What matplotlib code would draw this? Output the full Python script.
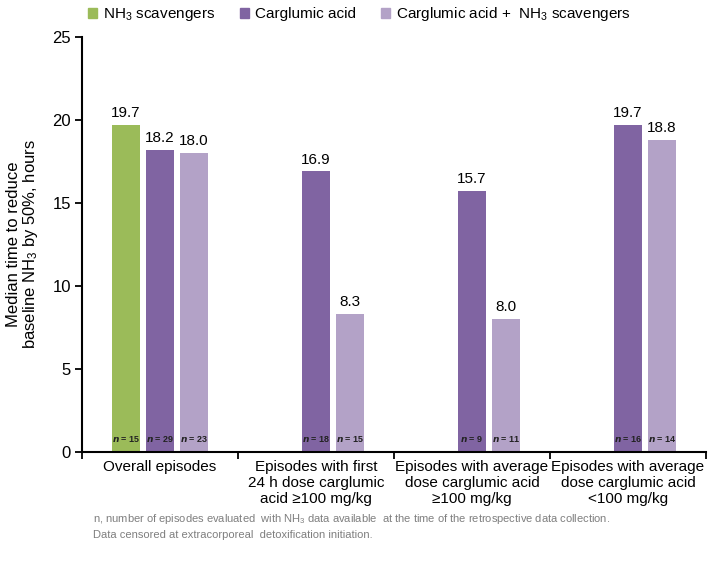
import numpy as np
import matplotlib.pyplot as plt
from matplotlib.patches import Patch

plt.rcParams['font.family'] = ['Liberation Sans', 'DejaVu Sans']
plt.rcParams['mathtext.fontset'] = 'custom'
plt.rcParams['mathtext.rm'] = 'Liberation Sans'
plt.rcParams['mathtext.it'] = 'Liberation Sans:italic'
plt.rcParams['mathtext.bf'] = 'Liberation Sans:bold'

# data
categories = ['Overall episodes',
              'Episodes with first\n24 h dose carglumic\nacid \u2265100 mg/kg',
              'Episodes with average\ndose carglumic acid\n\u2265100 mg/kg',
              'Episodes with average\ndose carglumic acid\n<100 mg/kg']
series_names = ['NH$_3$ scavengers', 'Carglumic acid', 'Carglumic acid +  NH$_3$ scavengers']
scavengers = [19.7, np.nan, np.nan, np.nan]
carglumic = [18.2, 16.9, 15.7, 19.7]
combined = [18.0, 8.3, 8.0, 18.8]
n_scav = [15, None, None, None]
n_carg = [29, 18, 9, 16]
n_comb = [23, 15, 11, 14]

colors = ['#9BBB59', '#8064A2', '#B3A2C7']

fig = plt.figure(figsize=(7.09, 5.74), dpi=100)
ax = fig.add_axes([0.1157, 0.2125, 0.8800, 0.7230])

x = np.arange(len(categories))
width = 0.18
step = 0.218
all_vals = [scavengers, carglumic, combined]
all_n = [n_scav, n_carg, n_comb]
for i, (vals, ns) in enumerate(zip(all_vals, all_n)):
    pos = x + (i - 1) * step
    ax.bar(pos, vals, width, color=colors[i], label=series_names[i])
    for p, v, n in zip(pos, vals, ns):
        if np.isnan(v):
            continue
        ax.text(p, v + 0.3, f'{v:.1f}', ha='center', va='bottom', fontsize=11)
        ax.text(p, 0.78, r'$\mathbfit{n}$' + f' = {n}', ha='center', va='center',
                fontsize=6.5, fontweight='bold', color='#222222')

ax.set_xlim(-0.5, 3.5)
ax.set_ylim(0, 25)
ax.set_yticks([0, 5, 10, 15, 20, 25])
ax.tick_params(axis='y', labelsize=12, length=5, width=1.3, direction='out', pad=3)
ax.set_xticks(np.arange(-0.5, 4.0, 1.0))
ax.set_xticklabels([])
ax.tick_params(axis='x', which='major', length=5, width=1.3, direction='out')
ax.set_xticks(x, minor=True)
ax.set_xticklabels(categories, minor=True, fontsize=11, linespacing=1.15)
ax.tick_params(axis='x', which='minor', length=0, pad=6)

for s in ['top', 'right']:
    ax.spines[s].set_visible(False)
for s in ['left', 'bottom']:
    ax.spines[s].set_linewidth(1.5)

ax.set_ylabel('Median time to reduce\nbaseline NH$_3$ by 50%, hours', fontsize=12,
              linespacing=0.95, labelpad=9)

handles = [Patch(color=c) for c in colors]
fig.legend(handles, series_names, loc='upper left', bbox_to_anchor=(0.105, 1.015),
           ncol=3, frameon=False, fontsize=11, handlelength=0.6, handleheight=0.6,
           handletextpad=0.4, columnspacing=1.6)

fig.text(0.131, 0.090,
         'n, number of episodes evaluated  with NH$_3$ data available  at the time of the retrospective data collection.',
         fontsize=8, color='#7f7f7f')
fig.text(0.131, 0.062, 'Data censored at extracorporeal  detoxification initiation.',
         fontsize=8, color='#7f7f7f')

fig.savefig('out.png', dpi=100)
